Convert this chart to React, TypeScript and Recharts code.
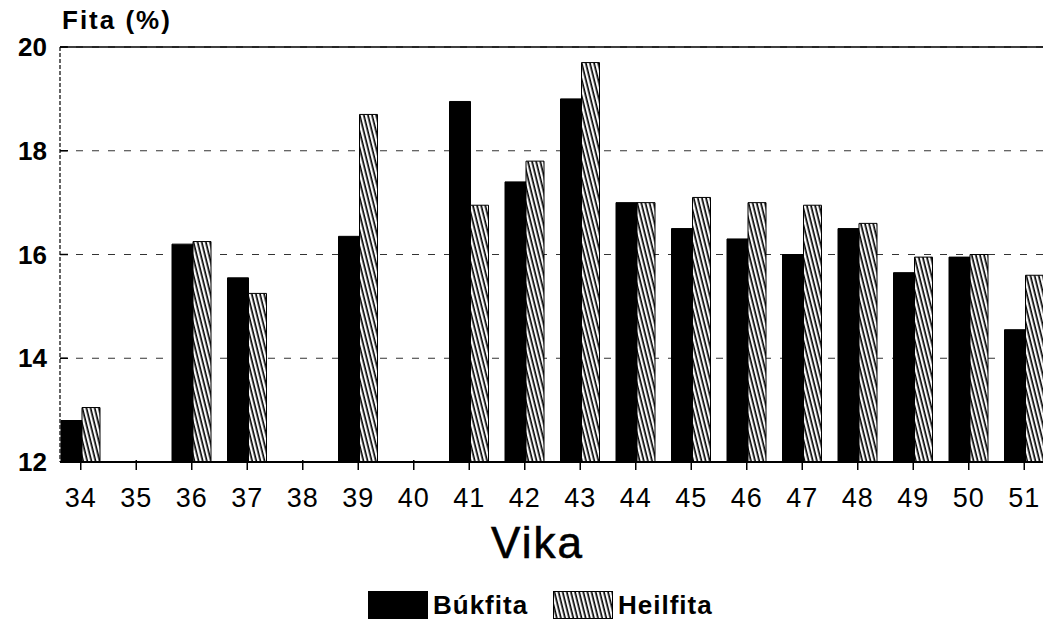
import { BarChart, Bar, XAxis, YAxis, CartesianGrid, Legend, ReferenceLine } from 'recharts';

const weeks = ['34', '35', '36', '37', '38', '39', '40', '41', '42', '43', '44', '45', '46', '47', '48', '49', '50', '51'];
const bukfita = [12.8, null, 16.2, 15.55, null, 16.35, null, 18.95, 17.4, 19.0, 17.0, 16.5, 16.3, 16.0, 16.5, 15.65, 15.95, 14.55];
const heilfita = [13.05, null, 16.25, 15.25, null, 18.7, null, 16.95, 17.8, 19.7, 17.0, 17.1, 17.0, 16.95, 16.6, 15.95, 16.0, 15.6];
const yTicks = [12, 14, 16, 18, 20];

const data = weeks.map((w, i) => ({ vika: w, bukfita: bukfita[i], heilfita: heilfita[i] }));

const FONT = '"Liberation Sans", Arial, Helvetica, sans-serif';

function XTick({ x, y, payload }: any) {
  return (
    <g>
      <line x1={x} y1={y} x2={x} y2={y - 10} stroke="#000" strokeWidth={1.5} />
      <text x={x} y={y + 37} textAnchor="middle" fontFamily={FONT} fontSize={27} letterSpacing={1} fill="#000">
        {payload.value}
      </text>
    </g>
  );
}

function YTick({ y, payload }: any) {
  return (
    <g>
      <line x1={60} y1={y} x2={68} y2={y} stroke="#000" strokeWidth={1.5} />
      <text x={47} y={y + 9} textAnchor="end" fontFamily={FONT} fontSize={26} fontWeight="bold" fill="#000">
        {payload.value}
      </text>
    </g>
  );
}

function VikaLabel({ viewBox }: any) {
  const cx = viewBox.x + viewBox.width / 2 - 14;
  return (
    <text x={cx} y={558} textAnchor="middle" fontFamily={FONT} fontSize={44} letterSpacing={2} stroke="#000" strokeWidth={0.6} fill="#000">
      Vika
    </text>
  );
}

function Swatch({ fill }: { fill: string }) {
  return (
    <svg width={60} height={28} style={{ display: 'block' }}>
      <rect x={0.5} y={0.5} width={59} height={27} fill={fill} stroke="#000" strokeWidth={1} />
    </svg>
  );
}

function LegendContent() {
  const text = { fontFamily: FONT, fontSize: 26, fontWeight: 'bold' as const, letterSpacing: 1, color: '#000', marginLeft: 5 };
  return (
    <div style={{ height: 50, display: 'flex', alignItems: 'center', paddingLeft: 368 }}>
      <Swatch fill="#000" />
      <span style={{ ...text, width: 120 }}>Búkfita</span>
      <Swatch fill="url(#hatch)" />
      <span style={text}>Heilfita</span>
    </div>
  );
}

export default function App() {
  return (
    <div style={{ position: 'absolute', left: 0, top: 0, width: 1043, height: 634, background: '#fff' }}>
      <svg width={0} height={0} style={{ position: 'absolute' }}>
        <defs>
          <pattern id="hatch" width={4} height={4} patternUnits="userSpaceOnUse" patternTransform="rotate(-14)">
            <rect width={4} height={4} fill="#fff" />
            <line x1={1.2} y1={0} x2={1.2} y2={4} stroke="#000" strokeWidth={1.7} />
          </pattern>
        </defs>
      </svg>
      <div style={{ position: 'absolute', left: 62, top: 5, fontFamily: FONT, fontSize: 26, fontWeight: 'bold', letterSpacing: 2 }}>
        Fita (%)
      </div>
      <BarChart
        width={1043}
        height={634}
        data={data}
        margin={{ top: 47, right: 0, left: 0, bottom: 4 }}
        barGap={0}
        barCategoryGap={16}
      >
        <CartesianGrid horizontal vertical={false} stroke="#333" strokeDasharray="7 9" />
        <ReferenceLine y={20} stroke="#000" strokeWidth={1.5} />
        <XAxis
          dataKey="vika"
          height={118}
          padding={{ left: -7, right: -9 }}
          axisLine={{ stroke: '#000', strokeWidth: 2 }}
          tickLine={false}
          tick={<XTick />}
          interval={0}
          label={<VikaLabel />}
        />
        <YAxis
          width={60}
          domain={[12, 20]}
          ticks={yTicks}
          allowDataOverflow
          axisLine={{ stroke: '#000', strokeWidth: 1.2, strokeDasharray: '4 2' }}
          tickLine={false}
          tick={<YTick />}
        />
        <Legend verticalAlign="bottom" content={<LegendContent />} />
        <Bar dataKey="bukfita" name="Búkfita" fill="#000" stroke="#000" barSize={21} isAnimationActive={false} />
        <Bar dataKey="heilfita" name="Heilfita" fill="url(#hatch)" stroke="#000" strokeWidth={1} barSize={18} isAnimationActive={false} />
      </BarChart>
    </div>
  );
}
